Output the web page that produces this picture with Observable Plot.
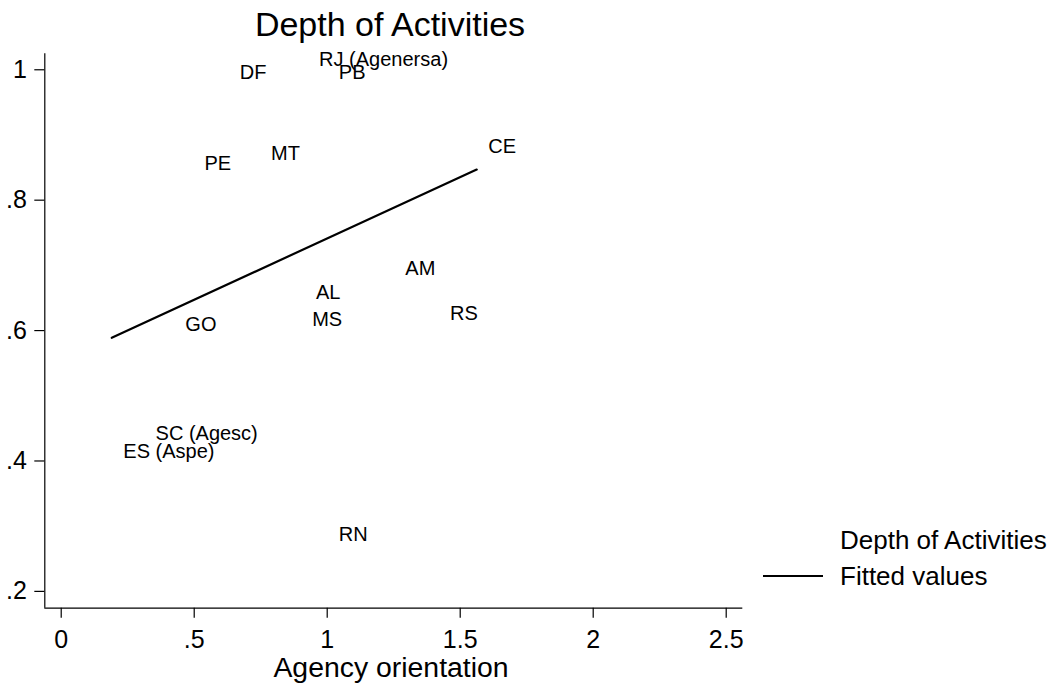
<!DOCTYPE html>
<html>
<head>
<meta charset="utf-8">
<script src="https://cdn.jsdelivr.net/npm/d3@7"></script>
<script src="https://cdn.jsdelivr.net/npm/@observablehq/plot@0.6"></script>
<style>
  html, body { margin: 0; padding: 0; background: #fff; }
  #wrap { position: relative; width: 1059px; height: 698px; font-family: "Liberation Sans", Arial, Helvetica, sans-serif; color: #000; }
  #title { position: absolute; left: 90px; width: 600px; top: 7px; text-align: center; font-size: 34px; line-height: 34px; white-space: nowrap; }
  .leg { position: absolute; left: 840px; font-size: 26px; line-height: 26px; white-space: nowrap; }
  #swatch { position: absolute; left: 763px; width: 60px; height: 2.2px; top: 574.6px; background: #000; }
  #chart { position: absolute; left: 0; top: 0; }
</style>
</head>
<body>
<div id="wrap">
  <div id="chart"></div>
  <div id="title">Depth of Activities</div>
  <div class="leg" style="top:527px">Depth of Activities</div>
  <div id="swatch"></div>
  <div class="leg" style="top:563px">Fitted values</div>
</div>
<script>
// Data
const states = ["RJ (Agenersa)", "PB", "DF", "PE", "MT", "CE", "AM", "AL", "MS", "RS", "GO", "SC (Agesc)", "ES (Aspe)", "RN"];
const agency = [0.926, 1.0, 0.628, 0.495, 0.745, 1.562, 1.250, 0.914, 0.900, 1.418, 0.423, 0.311, 0.190, 1.0];
const depth  = [1.020, 1.0, 1.0, 0.861, 0.875, 0.887, 0.700, 0.663, 0.621, 0.631, 0.613, 0.446, 0.418, 0.292];

// Fitted values (linear fit) at the ends of the data range
const fitX = [0.190, 1.562];
const fitY = [0.589, 0.847];

const xTicks = [0, 0.5, 1, 1.5, 2, 2.5];
const yTicks = [0.2, 0.4, 0.6, 0.8, 1];
const xTitle = "Agency orientation";

const points = states.map((s, i) => ({state: s, x: agency[i], y: depth[i]}));
const fitted = fitX.map((x, i) => ({x, y: fitY[i]}));

const xDomain = [-0.0617, 2.5624];
const yDomain = [0.1742, 1.0245];
const stataFmt = d => d === 0 ? "0" : String(+d.toFixed(2)).replace(/^0\./, ".");

const chart = Plot.plot({
  width: 1059,
  height: 698,
  marginLeft: 44.3,
  marginRight: 316.7,
  marginTop: 53.3,
  marginBottom: 90.3,
  style: {fontFamily: "'Liberation Sans', Arial, Helvetica, sans-serif", fontSize: "25px", color: "#000", background: "#fff", overflow: "visible"},
  x: {domain: xDomain, label: null},
  y: {domain: yDomain, label: null},
  marks: [
    Plot.axisX({ticks: xTicks, tickFormat: stataFmt, tickSize: 10, tickPadding: 12, strokeWidth: 1.2, fontSize: 25, label: null}),
    Plot.axisY({ticks: yTicks, tickFormat: stataFmt, tickSize: 10, tickPadding: 8, strokeWidth: 1.2, fontSize: 25, label: null}),
    Plot.ruleX([xDomain[0]], {stroke: "#000", strokeWidth: 1.2}),
    Plot.ruleY([yDomain[0]], {stroke: "#000", strokeWidth: 1.2}),
    Plot.line(fitted, {x: "x", y: "y", stroke: "#000", strokeWidth: 2.2}),
    Plot.text(points, {x: "x", y: "y", text: "state", textAnchor: "start", dx: 11.6, dy: 2.8, fontSize: 20, fill: "#000"}),
    Plot.text([xTitle], {frameAnchor: "bottom", dx: -2.8, dy: 69.2, fontSize: 28.4, fill: "#000"})
  ]
});
document.getElementById("chart").appendChild(chart);
</script>
</body>
</html>
